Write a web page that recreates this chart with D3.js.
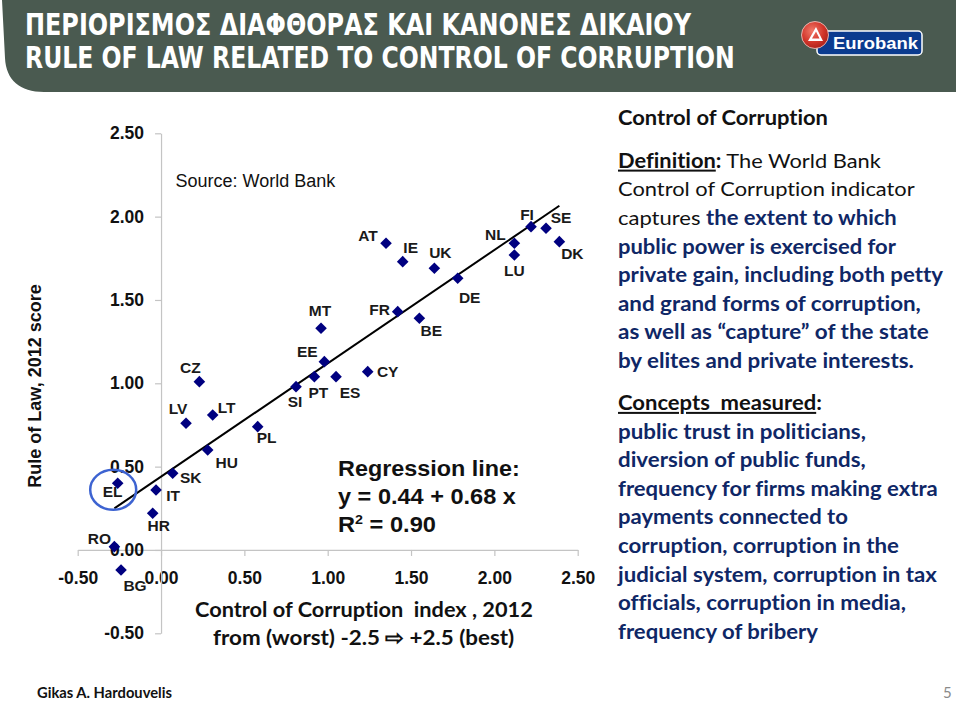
<!DOCTYPE html>
<html><head><meta charset="utf-8">
<script src="https://cdn.jsdelivr.net/npm/d3@7"></script>
<style>html,body{margin:0;padding:0;background:#fff;} svg{display:block;} text{font-variant-ligatures:none;}</style>
</head><body>
<script>
// ---------------- DATA ----------------
const countries = ["AT","BE","BG","CY","CZ","DE","DK","EE","EL","ES","FI","FR","HR","HU","IE","IT","LT","LU","LV","MT","NL","PL","PT","RO","SE","SI","SK","UK"];
const controlOfCorruption = [1.35,1.55,-0.24,1.24,0.23,1.78,2.39,0.98,-0.26,1.05,2.22,1.42,-0.05,0.28,1.45,-0.03,0.31,2.12,0.15,0.96,2.12,0.58,0.92,-0.28,2.31,0.81,0.07,1.64];
const ruleOfLaw          = [1.84,1.39,-0.12,1.07,1.01,1.63,1.85,1.13,0.40,1.04,1.94,1.43,0.22,0.60,1.73,0.36,0.81,1.77,0.76,1.33,1.84,0.74,1.04,0.02,1.93,0.98,0.46,1.69];
const xTicks = [-0.5,0,0.5,1,1.5,2,2.5];
const yTicks = [-0.5,0,0.5,1,1.5,2,2.5];
const regIntercept = 0.44;
const regSlope = 0.68;
const highlighted = "EL";

const titleLines = ["ΠΕΡΙΟΡΙΣΜΟΣ ΔΙΑΦΘΟΡΑΣ ΚΑΙ ΚΑΝΟΝΕΣ ΔΙΚΑΙΟΥ","RULE OF LAW RELATED TO CONTROL OF CORRUPTION"];
const xTitleLines = ["Control of Corruption  index , 2012","from (worst) -2.5 \u21E8 +2.5 (best)"];
const yTitle = "Rule of Law, 2012 score";
const sourceText = "Source: World Bank";
const regressionLines = ["Regression line:","y = 0.44 + 0.68 x"];
const panelHeading = "Control of Corruption";
const definitionLines = [
  [["Definition","bu"],[":","b"],[" The World Bank","r"]],
  [["Control of Corruption indicator","r"]],
  [["captures ","r"],["the extent to which","nb"]],
  [["public power is exercised for","nb"]],
  [["private gain, including both petty","nb"]],
  [["and grand forms of corruption,","nb"]],
  [["as well as \u201Ccapture\u201D of the state","nb"]],
  [["by elites and private interests.","nb"]]
];
const conceptLines = [
  [["Concepts  measured","bu"],[":","b"]],
  [["public trust in politicians,","nb"]],
  [["diversion of public funds,","nb"]],
  [["frequency for firms making extra","nb"]],
  [["payments connected to","nb"]],
  [["corruption, corruption in the","nb"]],
  [["judicial system, corruption in tax","nb"]],
  [["officials, corruption in media,","nb"]],
  [["frequency of bribery","nb"]]
];

// ---------------- LAYOUT ----------------
const labelOffsets = {CZ:[-9,-14],LV:[-8,-15],LT:[14,-7],PL:[9,11],HU:[19,13],SI:[-1,15],PT:[4,16],EE:[-17,-10],MT:[-1,-18],ES:[14,16],CY:[20,0],FR:[-18,-2],BE:[12,12],AT:[-18,-8],IE:[8,-14],UK:[6,-16],DE:[12,19],NL:[-19,-9],LU:[0,16],FI:[-4,-12],SE:[15,-11],DK:[13,12],SK:[18,4],IT:[17,6],HR:[6,12],EL:[-5,8],RO:[-15,-8],BG:[14,16]};
const W = 960, H = 703;
const CAL = "Lato, 'Open Sans', sans-serif";
const ARIAL = "'Liberation Sans', Arial, sans-serif";
const NAVY = "#0f2766";

const svg = d3.select("body").append("svg").attr("width", W).attr("height", H);

function fit(sel, x, y, w) {
  const len = sel.node().getComputedTextLength();
  sel.attr("transform", `translate(${x},${y}) scale(${w/len},1)`);
}

// Title bar
svg.append("path")
  .attr("d","M0,0 L956,0 L956,92 L44,92 C20,92 6,80 5,58 L2,0 Z")
  .attr("fill","#4a5a50");
const titleW = [666, 710], titleY = [35, 67.5];
titleLines.forEach((t,i)=>{
  const tx = svg.append("text").attr("font-family","'Liberation Sans Narrow','DejaVu Sans Condensed',sans-serif")
    .attr("font-weight","bold").attr("font-size",30.5).attr("fill","#fff").text(t);
  fit(tx, 25, titleY[i], titleW[i]);
});

// Logo
const logo = svg.append("g");
logo.append("rect").attr("x",817).attr("y",31).attr("width",105).attr("height",24).attr("rx",4)
  .attr("fill","#0b3b8f").attr("stroke","#fff").attr("stroke-width",1.5);
const lt = logo.append("text").attr("font-family",ARIAL).attr("font-weight","bold").attr("font-size",17)
  .attr("fill","#fff").text("Eurobank");
fit(lt, 833, 48.5, 85);
const grad = svg.append("defs").append("radialGradient").attr("id","rg").attr("cx","40%").attr("cy","35%").attr("r","70%");
grad.append("stop").attr("offset","0%").attr("stop-color","#f07a6a");
grad.append("stop").attr("offset","60%").attr("stop-color","#d2352a");
grad.append("stop").attr("offset","100%").attr("stop-color","#a8201a");
logo.append("circle").attr("cx",815).attr("cy",35).attr("r",13.5).attr("fill","url(#rg)").attr("stroke","#f3d0cc").attr("stroke-width",0.8);
logo.append("path").attr("d","M808,41 L816,27 L823,41 Z M812,38.5 L816,31.5 L819.5,38.5 Z")
  .attr("fill","#fff").attr("fill-rule","evenodd");

// ---------------- CHART ----------------
const x = d3.scaleLinear().domain([-0.5,2.5]).range([77.7,577.7]);
const y = d3.scaleLinear().domain([-0.5,2.5]).range([633.3,133.3]);
const fmt = d => d.toFixed(2);

const gx = svg.append("g").attr("transform",`translate(0,${y(0)})`)
  .call(d3.axisBottom(x).tickValues(xTicks).tickFormat(fmt).tickSize(6).tickSizeOuter(0).tickPadding(15.5));
const gy = svg.append("g").attr("transform",`translate(${x(0)},0)`)
  .call(d3.axisLeft(y).tickValues(yTicks).tickFormat(fmt).tickSize(6).tickSizeOuter(0).tickPadding(11));
[gx,gy].forEach(g=>{
  g.selectAll("path,line").attr("stroke","#c4c4c4").attr("stroke-width",1.2);
  g.selectAll("text").attr("font-family",ARIAL).attr("font-weight","bold").attr("font-size",17.5).attr("fill","#111");
});

// regression line
const xExt = d3.extent(controlOfCorruption);
svg.append("line")
  .attr("x1",x(xExt[0])).attr("y1",y(regIntercept+regSlope*xExt[0]))
  .attr("x2",x(xExt[1])).attr("y2",y(regIntercept+regSlope*xExt[1]))
  .attr("stroke","#000").attr("stroke-width",2);

// points
const pts = countries.map((c,i)=>({c, cx:controlOfCorruption[i], rl:ruleOfLaw[i]}));
svg.append("g").selectAll("path").data(pts).join("path")
  .attr("d","M0,-5.8 L5.8,0 L0,5.8 L-5.8,0 Z")
  .attr("transform",d=>`translate(${x(d.cx)},${y(d.rl)})`)
  .attr("fill","#000080");
svg.append("g").selectAll("text").data(pts).join("text")
  .attr("x",d=>x(d.cx)+labelOffsets[d.c][0]).attr("y",d=>y(d.rl)+labelOffsets[d.c][1])
  .attr("text-anchor","middle").attr("dominant-baseline","central")
  .attr("font-family",ARIAL).attr("font-weight","bold").attr("font-size",15.5).attr("fill","#1a1a1a")
  .text(d=>d.c);

// highlight ellipse around EL
const el = pts.find(d=>d.c===highlighted);
svg.append("ellipse").attr("cx",x(el.cx)-4.5).attr("cy",y(el.rl)+6.5).attr("rx",23).attr("ry",20)
  .attr("fill","none").attr("stroke","#3d63d1").attr("stroke-width",2.5);

// source
svg.append("text").attr("x",175.5).attr("y",187).attr("font-family",ARIAL).attr("font-size",18)
  .attr("fill","#111").text(sourceText);

// regression text
const regY = [475.5, 503.5];
regressionLines.forEach((t,i)=>{
  const tx = svg.append("text").attr("font-family",ARIAL).attr("font-weight","bold").attr("font-size",21.5).attr("fill","#111").text(t);
  fit(tx, 338, regY[i], i===0?182:178);
});
const r2 = svg.append("text").attr("font-family",ARIAL).attr("font-weight","bold").attr("font-size",21.5).attr("fill","#111");
r2.append("tspan").text("R");
r2.append("tspan").attr("font-size",13).attr("dy",-8).text("2");
r2.append("tspan").attr("dy",8).text(" = 0.90");
fit(r2, 338, 531.5, 98);

// y title
svg.append("text").attr("transform","translate(41,386) rotate(-90)").attr("text-anchor","middle")
  .attr("font-family",ARIAL).attr("font-weight","bold").attr("font-size",18).attr("fill","#111").text(yTitle);

// x title
const xtW = [338, 302], xtX = [195, 213], xtY = [616.5, 645];
xTitleLines.forEach((t,i)=>{
  const tx = svg.append("text").attr("font-family",CAL).attr("font-weight","bold").attr("font-size",21)
    .attr("fill","#111").style("white-space","pre").text(t);
  fit(tx, xtX[i], xtY[i], xtW[i]);
});

// ---------------- RIGHT PANEL ----------------
function richLine(segs, xx, yy, w) {
  const t = svg.append("text").attr("font-family",CAL).attr("font-size",20).style("white-space","pre");
  segs.forEach(([s,st])=>{
    const ts = t.append("tspan").text(s);
    if (st==="r") ts.attr("fill","#111").attr("font-weight","normal");
    if (st==="b") ts.attr("fill","#111").attr("font-weight","bold");
    if (st==="bu") ts.attr("fill","#111").attr("font-weight","bold").attr("text-decoration","underline");
    if (st==="nb") ts.attr("fill",NAVY).attr("font-weight","bold");
  });
  fit(t, xx, yy, w);
}
richLine([[panelHeading,"b"]], 618, 125, 210);
const defW = [263,297,279,278,325,303,311,296];
definitionLines.forEach((l,i)=>richLine(l, 618, 167.7+i*28.6, defW[i]));
const conW = [204,248,248,320,230,281,319,288,200];
conceptLines.forEach((l,i)=>richLine(l, 618, 410+i*28.6, conW[i]));

// footer
const ft = svg.append("text").attr("font-family",CAL).attr("font-weight","bold").attr("font-size",15).attr("fill","#111").text("Gikas A. Hardouvelis");
fit(ft, 37, 698, 135);
svg.append("text").attr("x",943).attr("y",698).attr("font-family",CAL).attr("font-size",15).attr("fill","#8a8a8a").text("5");
</script>
</body></html>
